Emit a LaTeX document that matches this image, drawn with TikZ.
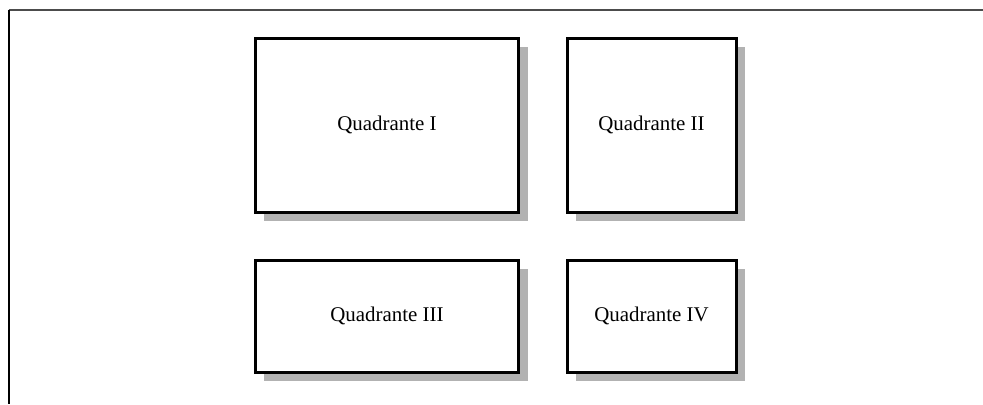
\documentclass[tikz,border=0pt]{standalone}
\usepackage{fontspec}
\setmainfont{Liberation Serif}
\usetikzlibrary{shadows}
\tikzset{
quadbox/.style={draw=black, fill=white, line width=3bp, inner sep=0pt,
drop shadow={shadow xshift=9bp, shadow yshift=-9bp, fill=black!30, opacity=1},
font=\fontsize{21}{25}\selectfont},
}
\begin{document}
\begin{tikzpicture}
[x=1bp, y=-1bp]
\useasboundingbox (0,0) rectangle (983,404);
\fill[white] (0,0) rectangle (983,404);
% frame
\draw[line width=2.5bp, black!70] (8.5,10) -- (983,10);
\draw[line width=2bp, black] (8.5,10) -- (8.5,404);
\foreach \name/\cx/\cy/\bw/\bh/\txt in {
qI/387/125/263.5/174/Quadrante I,
qII/651.5/125/169/174/Quadrante II,
qIII/387/316/263.5/112/Quadrante III,
qIV/651.5/316/169/112/Quadrante IV}{
\node[quadbox, minimum width=\bw bp, minimum height=\bh bp] (\name) at (\cx,\cy) {\txt};
}
\end{tikzpicture}
\end{document}
